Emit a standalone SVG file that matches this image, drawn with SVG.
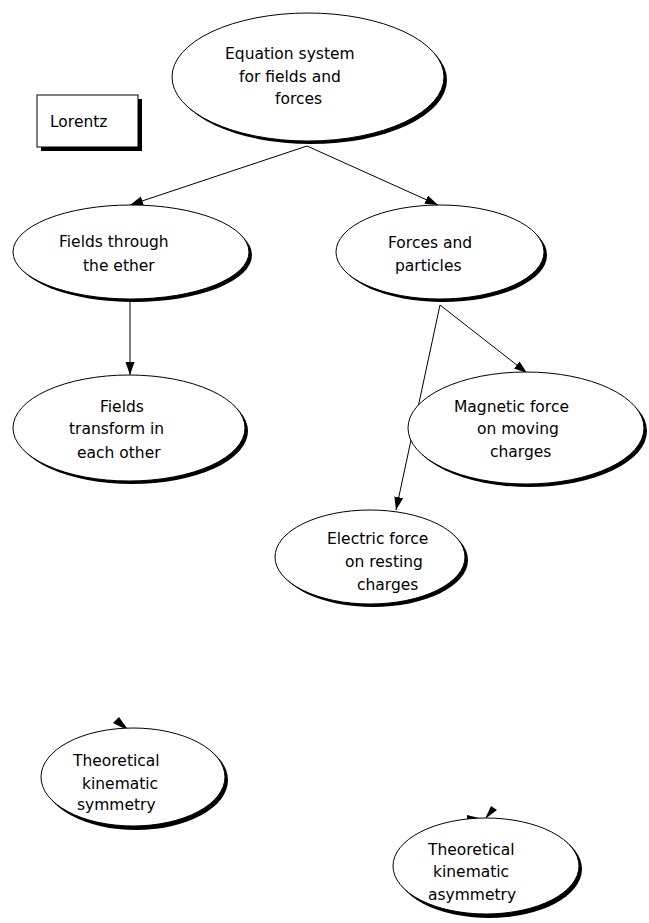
<svg xmlns="http://www.w3.org/2000/svg" width="649" height="923" viewBox="0 0 649 923">
  <style>
    .shadow { fill: #000; }
    .body { fill: #fff; stroke: #000; stroke-width: 1; }
    .label { font-family: "DejaVu Sans", "Liberation Sans", Arial, sans-serif; font-size: 15.5px; fill: #000; }
    .edge { stroke: #000; stroke-width: 1; fill: none; marker-end: url(#head); }
    .stub { fill: #000; }
  </style>
  <defs>
    <marker id="head" markerUnits="userSpaceOnUse" markerWidth="14" markerHeight="10" refX="13" refY="4.5" orient="auto">
      <path d="M0,0 L13,4.5 L0,9 Z" fill="#000"/>
    </marker>
  </defs>
  <rect width="649" height="923" fill="#fff"/>

  <g id="connectors">
    <line class="edge" x1="307" y1="146" x2="130" y2="205"/>
    <line class="edge" x1="307" y1="146" x2="438" y2="205"/>
    <line class="edge" x1="130" y1="302" x2="130" y2="375"/>
    <line class="edge" x1="440" y1="305" x2="527" y2="373"/>
    <line class="edge" x1="440" y1="305" x2="396" y2="510"/>
  </g>

  <g id="equation-system">
    <ellipse class="shadow" cx="311" cy="80" rx="136" ry="64"/>
    <ellipse class="body" cx="308" cy="77" rx="136" ry="64"/>
    <text class="label" x="225" y="59">Equation system</text>
    <text class="label" x="239" y="82">for fields and</text>
    <text class="label" x="275" y="104">forces</text>
  </g>

  <g id="lorentz">
    <rect class="shadow" x="41" y="99" width="101" height="52"/>
    <rect class="body" x="37" y="95" width="101" height="52"/>
    <text class="label" x="50" y="127">Lorentz</text>
  </g>

  <g id="fields-ether">
    <ellipse class="shadow" cx="134" cy="255" rx="118" ry="47"/>
    <ellipse class="body" cx="131" cy="252" rx="118" ry="47"/>
    <text class="label" x="59" y="247">Fields through</text>
    <text class="label" x="83" y="271">the ether</text>
  </g>

  <g id="forces-particles">
    <ellipse class="shadow" cx="443" cy="255" rx="104" ry="47"/>
    <ellipse class="body" cx="440" cy="252" rx="104" ry="47"/>
    <text class="label" x="388" y="248">Forces and</text>
    <text class="label" x="395" y="271">particles</text>
  </g>

  <g id="fields-transform">
    <ellipse class="shadow" cx="132" cy="431" rx="116" ry="53"/>
    <ellipse class="body" cx="129" cy="428" rx="116" ry="53"/>
    <text class="label" x="100" y="412">Fields</text>
    <text class="label" x="69" y="434">transform in</text>
    <text class="label" x="77" y="458">each other</text>
  </g>

  <g id="magnetic-force">
    <ellipse class="shadow" cx="529" cy="431" rx="118" ry="56"/>
    <ellipse class="body" cx="526" cy="428" rx="118" ry="56"/>
    <text class="label" x="454" y="412">Magnetic force</text>
    <text class="label" x="477" y="434">on moving</text>
    <text class="label" x="490" y="457">charges</text>
  </g>

  <g id="electric-force">
    <ellipse class="shadow" cx="373" cy="560" rx="95" ry="47"/>
    <ellipse class="body" cx="370" cy="557" rx="95" ry="47"/>
    <text class="label" x="327" y="544">Electric force</text>
    <text class="label" x="345" y="567">on resting</text>
    <text class="label" x="357" y="590">charges</text>
  </g>

  <g id="kinematic-symmetry">
    <polygon class="stub" points="129,731 113,723 119,717"/>
    <ellipse class="shadow" cx="136" cy="780" rx="92" ry="50"/>
    <ellipse class="body" cx="133" cy="777" rx="92" ry="49"/>
    <text class="label" x="73" y="766">Theoretical</text>
    <text class="label" x="82" y="789">kinematic</text>
    <text class="label" x="77" y="810">symmetry</text>
  </g>

  <g id="kinematic-asymmetry">
    <polygon class="stub" points="485,819 491,806 497,810"/>
    <polygon class="stub" points="467,815 467,819 483,819"/>
    <ellipse class="shadow" cx="489" cy="869" rx="93" ry="49"/>
    <ellipse class="body" cx="486" cy="866" rx="93" ry="48"/>
    <text class="label" x="428" y="855">Theoretical</text>
    <text class="label" x="433" y="877">kinematic</text>
    <text class="label" x="428" y="900">asymmetry</text>
  </g>
</svg>
